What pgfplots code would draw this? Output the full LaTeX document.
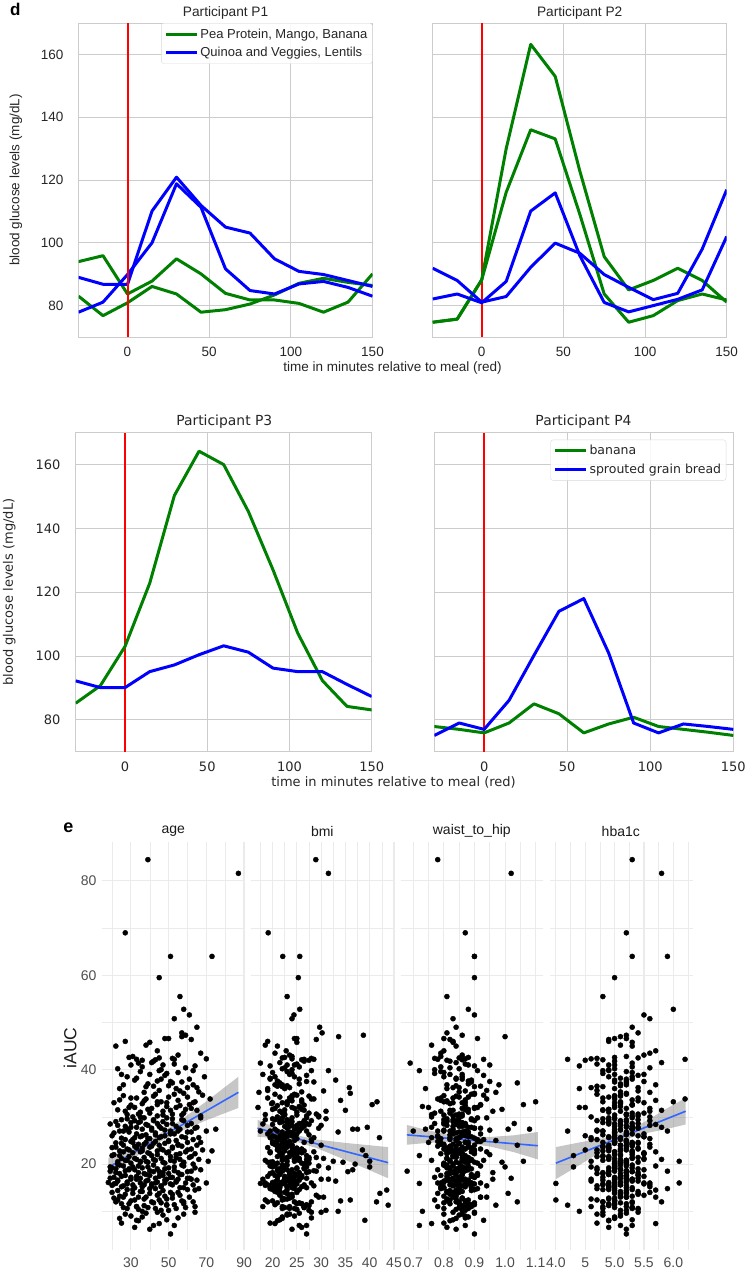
\documentclass[border=0pt]{standalone}
\usepackage{pgfplots}
\pgfplotsset{compat=1.18}
\usepackage{pgfplotstable}
\usepackage{fontspec}
\setmainfont{Liberation Sans}
\newfontfamily\libsans{Liberation Sans}
\newfontfamily\dejavu{DejaVu Sans}

\definecolor{mplgreen}{RGB}{0,128,0}
\definecolor{mplblue}{RGB}{0,0,255}
\definecolor{mplred}{RGB}{255,0,0}
\definecolor{gridgray}{RGB}{204,204,204}
\definecolor{tickc}{RGB}{38,38,38}
\definecolor{ggrid}{RGB}{235,235,235}
\definecolor{ggtick}{RGB}{77,77,77}
\definecolor{ggstrip}{RGB}{26,26,26}
\definecolor{ggblue}{RGB}{51,102,255}

% iAUC against four covariates, one row per participant
\pgfplotstableread{
age bmi whr hba1c iauc
39 28.9 0.78 5.3 84.5
87 31.5 1.02 5.8 81.6
27 19.1 0.87 5.2 69.0
51 22.1 0.90 5.3 64.0
73 25.6 0.90 5.9 64.0
45 25.3 0.90 5.0 59.5
56 23.0 0.81 4.8 55.5
58 25.6 0.88 6.0 52.8
61 24.4 0.90 5.5 51.6
53 24.0 0.83 5.6 50.8
65 29.7 0.84 5.3 49.0
57 30.2 0.81 5.4 47.8
22 21.0 0.84 5.3 45.0
27 19.0 0.83 4.9 46.0
29 22.5 0.88 5.0 42.6
31 24.0 0.79 5.2 42.8
36 27.5 0.81 4.5 42.0
38 18.5 0.76 5.1 45.2
40 25.0 0.83 5.3 45.8
43 26.0 0.86 4.8 42.1
45 22.0 0.85 5.4 42.5
48 24.5 0.91 5.0 46.6
50 25.0 0.80 5.2 46.6
52 28.0 0.77 4.7 42.4
55 23.5 0.86 5.5 43.1
57 33.6 1.00 5.1 47.0
59 38.7 0.86 5.2 47.3
62 29.0 0.82 4.9 46.4
67 20.5 0.79 5.6 43.5
70 24.0 0.87 4.6 42.3
41 21.5 0.84 5.8 41.5
34 17.5 0.69 5.3 41.4
47 23.0 0.95 5.0 41.0
53 26.5 0.93 6.2 42.2
64 19.5 0.90 4.4 40.8
33 28.5 0.78 4.2 42.2
44 22.8 0.80 5.7 44.0
25 18.0 0.82 5.0 39.0
28 20.5 0.86 4.9 38.5
35 23.0 0.79 5.2 39.6
39 25.5 0.88 5.1 37.0
42 21.0 0.92 4.7 36.5
46 19.5 0.84 5.3 38.0
49 24.0 0.77 4.8 39.2
51 27.0 0.95 5.5 37.5
54 22.5 0.81 5.0 36.0
56 30.5 0.87 5.4 35.5
58 36.0 0.90 5.2 35.0
60 35.8 0.83 4.6 36.2
63 22.0 0.98 5.7 36.8
66 26.0 0.85 5.1 35.3
69 24.5 0.80 5.3 38.5
24 19.0 0.74 4.4 36.0
32 33.0 0.89 5.0 37.8
37 17.2 0.97 5.6 35.2
45 28.0 0.72 4.9 39.8
52 21.5 1.04 5.2 37.2
21 20.0 0.83 5.1 33.0
23 22.5 0.87 4.8 31.5
26 24.0 0.80 5.0 34.5
28 18.5 0.76 5.2 30.5
30 26.5 0.92 5.3 32.5
31 21.0 0.85 4.6 30.0
33 23.5 0.79 5.4 34.0
35 25.0 0.88 4.9 31.0
36 19.8 0.82 5.1 32.8
38 28.5 0.94 5.0 33.8
40 22.0 0.77 5.5 30.8
41 24.5 0.86 5.2 31.8
43 20.5 0.90 4.7 34.8
44 27.0 0.83 5.3 30.2
46 23.0 0.81 4.8 33.2
47 31.0 0.96 5.6 31.2
49 25.5 0.73 5.1 32.2
50 21.5 0.88 5.0 34.2
52 29.0 0.85 5.4 30.6
54 24.0 0.91 4.5 32.0
55 34.0 0.79 5.7 33.5
57 22.5 0.84 5.2 30.4
59 26.0 0.99 4.9 31.6
61 40.5 1.06 5.3 32.6
63 23.0 0.87 5.0 33.0
65 35.0 0.82 5.8 31.4
68 25.0 0.93 5.1 34.6
72 28.0 0.78 6.2 33.8
29 17.0 0.75 4.4 32.0
44 41.5 1.10 6.0 33.2
19 18.0 0.80 4.9 28.5
20 21.5 0.86 5.0 26.0
22 24.0 0.83 5.2 29.0
24 19.5 0.78 4.7 27.0
25 22.0 0.90 5.1 25.5
27 26.5 0.85 5.3 28.0
28 20.0 0.81 4.8 29.6
29 23.5 0.88 5.0 26.8
30 25.0 0.76 5.4 27.8
31 21.0 0.93 4.6 25.2
32 28.0 0.84 5.1 29.2
33 19.0 0.87 5.2 26.4
34 23.0 0.80 4.9 28.8
35 24.5 0.89 5.5 25.8
36 20.5 0.74 5.0 27.4
37 27.0 0.91 5.3 29.8
38 22.5 0.82 4.8 26.2
39 30.0 0.86 5.1 28.2
40 21.5 0.79 5.6 25.4
41 25.5 0.95 4.7 27.2
42 18.5 0.83 5.2 29.4
43 24.0 0.88 5.0 26.6
44 26.0 0.77 5.3 28.6
45 22.0 0.85 4.9 25.6
46 29.5 0.92 5.4 27.6
47 23.5 0.81 5.1 29.0
48 20.0 0.87 4.5 26.0
49 27.5 0.84 5.7 28.4
50 24.5 0.97 5.2 25.0
51 21.0 0.80 4.8 27.0
52 31.0 0.89 5.0 29.6
53 25.0 0.83 5.5 26.4
54 22.5 0.86 5.3 28.0
56 36.5 1.01 5.1 27.4
57 23.0 0.78 4.9 25.8
58 26.5 0.90 5.6 29.2
60 33.5 0.85 5.2 26.8
62 25.5 1.03 5.4 28.6
63 28.0 0.82 4.7 25.2
65 39.5 0.88 5.8 27.8
67 24.0 0.94 5.0 29.8
70 27.0 0.87 5.9 27.0
75 37.5 1.08 5.3 27.4
66 42.0 0.76 4.6 25.6
26 17.5 0.70 4.2 27.0
20 19.0 0.82 4.9 23.5
21 21.5 0.86 5.1 22.0
22 23.0 0.79 5.0 24.5
23 20.0 0.88 5.2 20.5
24 25.5 0.84 4.8 22.8
25 22.0 0.81 5.3 21.2
26 24.0 0.90 4.9 24.0
27 18.5 0.76 5.1 20.8
28 26.0 0.87 5.4 23.2
29 21.0 0.83 4.7 21.6
30 23.5 0.92 5.0 24.8
30 27.5 0.80 5.2 20.2
31 19.5 0.85 5.5 22.4
32 22.5 0.78 4.8 23.8
33 25.0 0.89 5.1 21.0
34 20.5 0.83 5.3 24.2
35 24.5 0.86 4.6 20.6
35 28.5 0.94 5.0 22.6
36 21.5 0.81 5.2 23.4
37 23.0 0.88 4.9 21.4
38 26.5 0.75 5.4 24.6
39 19.0 0.84 5.1 20.4
40 22.0 0.90 5.0 22.2
40 24.0 0.82 5.6 23.6
41 27.0 0.87 4.8 21.8
42 20.0 0.79 5.3 24.4
43 25.5 0.93 5.2 20.8
44 22.5 0.85 4.9 22.8
45 24.0 0.80 5.1 24.0
46 30.5 0.88 5.5 21.2
47 21.0 0.83 4.7 23.0
48 26.0 0.91 5.0 20.2
49 23.5 0.86 5.3 22.4
50 28.0 0.78 5.2 24.8
51 22.0 0.84 4.8 21.6
52 25.0 0.89 5.4 23.4
53 32.5 0.82 5.1 20.6
54 24.5 0.95 5.0 22.0
55 20.5 0.80 5.6 24.2
56 27.5 0.87 4.9 21.0
57 23.0 0.84 5.3 23.8
58 34.5 0.99 5.2 20.4
59 26.0 0.81 5.7 22.6
60 22.5 0.88 4.8 24.6
61 29.0 0.86 5.4 21.4
62 25.0 0.92 5.1 23.2
63 37.0 0.83 5.0 20.0
64 24.0 0.79 5.5 22.2
65 30.0 1.04 5.2 24.0
66 27.0 0.87 5.8 21.0
68 38.5 0.85 4.5 23.0
71 40.0 1.06 6.1 20.6
73 26.5 0.90 5.3 22.8
24 39.2 0.72 4.3 21.8
18 20.0 0.80 4.9 16.1
19 22.0 0.86 5.0 18.5
20 18.5 0.83 5.2 15.5
21 24.0 0.77 4.8 17.2
22 21.0 0.89 5.1 19.0
23 23.5 0.84 5.3 16.4
24 19.5 0.81 4.7 18.0
25 26.0 0.87 5.0 15.2
26 22.5 0.92 5.2 19.6
27 20.5 0.79 5.4 17.6
28 25.0 0.85 4.9 15.8
29 23.0 0.88 5.1 18.8
30 18.0 0.82 5.0 16.8
31 27.0 0.86 4.6 19.4
32 21.5 0.80 5.3 15.0
33 24.5 0.90 5.2 17.4
34 20.0 0.84 4.8 18.2
35 22.5 0.78 5.5 16.0
36 26.5 0.87 5.0 19.2
37 19.0 0.83 5.1 15.6
38 23.5 0.89 4.9 17.8
39 25.5 0.81 5.3 16.6
40 21.0 0.85 5.2 18.6
41 28.5 0.94 4.7 15.4
42 22.0 0.80 5.0 19.8
43 24.0 0.86 5.4 17.0
44 20.5 0.88 5.1 16.2
45 27.5 0.83 4.9 18.4
46 23.0 0.79 5.6 15.2
47 25.0 0.91 5.2 17.6
48 21.5 0.84 5.0 19.0
49 30.0 0.87 5.3 16.8
50 24.5 0.82 4.8 18.0
51 22.0 0.90 5.5 15.8
52 26.0 0.85 5.1 17.2
53 20.0 0.81 5.0 19.4
54 33.0 0.88 4.6 16.4
55 23.5 0.96 5.4 18.2
56 27.0 0.80 5.2 15.0
57 21.5 0.86 4.9 17.8
58 29.5 0.83 5.7 19.6
59 24.0 0.89 5.1 16.0
60 35.5 0.84 5.3 18.4
61 22.5 1.02 5.0 17.0
63 26.5 0.87 5.6 15.6
64 31.5 0.82 4.7 19.2
65 24.5 0.85 5.2 16.6
70 28.0 0.92 6.1 16.0
67 36.5 0.78 5.5 18.8
19 40.0 1.00 4.3 19.4
22 17.5 0.72 4.0 15.9
62 29.0 0.68 5.9 18.5
20 21.0 0.83 5.0 14.0
22 19.0 0.87 4.8 12.0
24 24.0 0.80 5.1 13.2
26 22.5 0.85 5.3 10.8
28 20.0 0.90 4.9 14.6
29 26.0 0.82 5.2 11.6
31 23.0 0.78 5.0 13.8
32 18.5 0.88 4.7 12.4
34 25.0 0.84 5.4 10.4
35 21.5 0.81 5.1 14.2
37 27.5 0.86 4.9 11.2
38 23.5 0.92 5.2 13.0
40 20.5 0.79 5.0 14.8
41 24.5 0.85 5.3 12.0
43 22.0 0.87 4.8 10.6
44 29.0 0.83 5.5 13.4
46 25.5 0.80 5.1 11.8
47 21.0 0.89 5.0 14.4
49 23.0 0.84 4.6 12.6
50 31.0 0.86 5.2 10.2
52 24.0 0.82 5.4 13.6
53 27.0 0.90 4.9 11.4
55 22.5 0.85 5.6 14.0
57 34.0 0.81 5.0 12.2
59 26.5 0.88 5.3 10.8
61 30.5 0.94 5.2 13.0
64 23.5 0.87 4.8 11.0
64 43.5 0.84 5.7 14.5
58 41.4 1.04 5.8 12.0
49 43.8 0.97 4.2 11.3
45 42.1 1.01 5.4 13.8
23 36.0 0.77 4.0 12.4
36 33.5 0.73 4.4 10.0
66 19.5 0.91 5.9 14.8
24 22.0 0.84 5.0 8.5
25 19.5 0.80 4.7 7.5
30 24.5 0.87 5.1 9.0
34 21.0 0.82 4.9 8.0
38 25.5 0.90 5.2 9.6
42 27.0 0.72 5.3 7.0
47 23.0 0.85 4.8 9.2
51 27.0 0.90 5.2 5.2
55 28.0 0.87 5.0 8.6
64 30.0 0.83 5.4 9.8
33 39.0 0.93 4.9 8.1
45 20.5 0.76 5.7 7.4
23 22.0 0.85 5.0 40.2
26 20.5 0.81 5.2 36.8
30 24.5 0.88 4.9 41.0
33 19.5 0.84 5.1 38.2
36 25.5 0.79 5.3 40.6
38 22.0 0.90 4.8 36.4
40 23.5 0.86 5.5 39.0
42 26.5 0.82 5.0 41.8
44 21.0 0.88 5.2 37.6
46 24.0 0.77 4.9 40.0
48 27.0 0.93 5.4 38.8
50 23.0 0.84 5.1 36.6
53 25.0 0.87 4.7 41.2
55 20.0 0.80 5.3 39.4
57 28.5 0.89 5.0 37.4
59 22.5 0.82 5.6 40.4
61 25.5 0.86 5.2 38.0
63 31.5 0.91 4.8 39.8
65 23.5 0.85 5.4 36.2
24 26.0 0.87 5.3 33.6
27 21.5 0.79 5.1 31.2
30 19.0 0.83 4.8 34.0
32 25.5 0.90 5.0 32.0
34 22.5 0.86 5.2 30.6
37 24.0 0.81 5.4 33.4
39 20.0 0.88 4.9 31.6
42 27.5 0.84 5.1 34.4
44 23.0 0.92 5.3 32.6
47 25.0 0.80 5.0 30.4
49 22.0 0.86 5.5 33.0
51 26.5 0.83 4.8 31.4
53 24.5 0.89 5.2 34.8
56 21.0 0.87 5.0 32.4
58 27.5 0.82 5.3 30.8
60 24.0 0.85 4.9 34.2
62 20.5 0.90 5.6 31.8
64 26.0 0.80 5.1 33.2
67 29.5 0.86 5.4 30.2
45 19.0 0.94 4.7 35.6
35 29.5 0.76 5.6 30.0
21 23.0 0.84 5.0 26.6
23 25.0 0.87 5.2 28.2
25 20.5 0.80 4.9 29.4
27 22.5 0.91 5.1 25.2
28 24.5 0.83 5.3 27.4
30 21.5 0.86 4.8 28.8
32 19.5 0.82 5.0 25.6
33 26.0 0.89 5.2 27.8
35 22.0 0.85 4.9 29.0
36 24.0 0.78 5.4 26.0
38 20.0 0.87 5.1 28.4
39 25.0 0.84 5.0 25.4
41 23.0 0.90 5.3 27.6
42 21.5 0.81 4.7 29.2
43 27.5 0.86 5.2 26.2
45 23.5 0.83 5.0 28.0
46 20.5 0.88 5.5 25.8
48 25.5 0.80 5.1 27.2
49 22.0 0.85 4.9 29.8
51 24.5 0.92 5.3 26.4
52 27.0 0.87 5.0 28.6
54 21.0 0.84 5.2 25.0
55 25.5 0.82 4.8 27.0
57 23.0 0.89 5.4 29.4
59 28.5 0.85 5.1 25.6
60 24.0 0.81 5.6 28.2
62 22.0 0.86 5.0 26.8
64 26.0 0.90 5.3 27.6
20 24.5 0.83 5.1 21.8
22 21.0 0.88 4.9 23.6
23 26.5 0.80 5.2 20.0
25 23.0 0.85 5.0 24.4
26 19.5 0.82 5.3 22.6
28 22.0 0.89 4.8 20.8
29 24.5 0.84 5.1 23.0
31 20.5 0.87 5.2 24.6
32 25.5 0.81 5.0 21.2
33 22.5 0.86 4.9 23.4
35 19.5 0.90 5.4 20.4
36 24.0 0.83 5.1 22.8
37 21.0 0.79 5.3 24.2
38 23.0 0.88 5.0 20.6
39 26.0 0.85 4.7 22.4
41 22.0 0.82 5.2 23.8
42 24.5 0.86 5.5 21.0
43 20.0 0.91 5.0 24.8
44 25.0 0.84 5.3 22.0
46 22.5 0.80 4.9 23.2
47 27.0 0.87 5.1 20.4
48 23.5 0.85 5.4 24.4
50 21.5 0.89 5.0 22.6
51 25.5 0.82 5.2 20.8
52 23.0 0.86 4.8 23.6
54 27.5 0.84 5.3 21.4
55 22.0 0.88 5.1 24.0
56 24.5 0.81 5.5 22.2
58 21.0 0.85 5.0 20.2
60 26.0 0.90 5.2 23.0
62 23.5 0.83 4.9 21.6
67 22.0 0.87 5.3 24.6
19 24.0 0.85 5.1 17.0
20 22.5 0.81 4.9 19.2
21 20.0 0.88 5.0 15.8
22 25.5 0.84 5.2 18.2
23 21.0 0.86 4.8 16.6
24 23.0 0.80 5.3 19.8
25 19.0 0.89 5.1 17.4
26 24.5 0.83 5.0 15.4
27 22.0 0.87 4.9 18.6
28 20.5 0.82 5.2 16.2
29 26.5 0.85 5.4 19.0
30 23.5 0.90 5.0 17.2
31 21.0 0.84 5.1 15.6
32 24.0 0.86 4.7 18.8
33 22.5 0.81 5.3 16.8
34 19.5 0.88 5.0 19.6
35 25.5 0.83 5.2 17.0
36 23.0 0.85 4.9 15.2
37 21.5 0.91 5.1 18.0
38 24.5 0.80 5.4 16.4
39 22.0 0.86 5.0 19.4
40 26.0 0.84 5.2 17.6
41 20.0 0.87 4.8 15.8
42 23.5 0.82 5.3 18.4
43 21.5 0.89 5.1 16.0
44 25.0 0.85 5.0 19.0
45 22.5 0.81 5.5 17.4
46 20.0 0.86 4.9 15.4
47 27.0 0.83 5.2 18.2
48 23.0 0.88 5.0 16.6
50 25.0 0.85 5.3 19.2
51 21.0 0.90 5.1 17.2
52 23.5 0.82 4.8 15.6
53 28.5 0.87 5.2 18.6
54 22.0 0.84 5.0 16.2
56 25.0 0.86 5.4 17.8
57 20.5 0.81 5.1 19.8
58 24.0 0.89 4.9 15.0
60 27.0 0.85 5.2 17.0
62 22.5 0.83 5.0 16.8
21 23.5 0.86 5.0 12.8
23 20.5 0.82 5.2 14.4
25 25.0 0.88 4.9 11.6
27 21.5 0.84 5.1 13.6
28 23.5 0.80 5.3 10.6
30 20.0 0.87 5.0 12.2
31 25.5 0.85 4.8 14.6
33 22.0 0.89 5.2 11.0
34 24.0 0.83 5.1 13.0
36 20.5 0.86 5.4 14.2
37 22.5 0.81 4.9 12.6
39 26.5 0.88 5.0 10.8
40 23.0 0.84 5.2 13.8
42 21.0 0.90 5.3 11.8
43 24.5 0.85 4.7 14.8
45 22.0 0.82 5.0 12.4
46 27.5 0.87 5.1 10.2
48 23.5 0.84 5.3 13.2
49 20.5 0.89 5.0 11.4
51 25.0 0.81 5.2 14.0
52 22.0 0.86 4.9 12.8
54 24.5 0.88 5.4 10.6
56 21.5 0.83 5.1 13.4
58 26.0 0.85 5.0 11.6
60 23.0 0.90 5.3 14.6
63 28.0 0.84 4.8 12.0
33 18.0 0.78 4.6 11.0
48 18.5 0.79 5.6 16.0
26 29.5 0.92 5.7 13.0
55 31.5 0.96 4.6 16.8
27 23.0 0.86 5.1 9.4
32 26.0 0.81 4.9 6.6
36 22.0 0.88 5.0 8.8
40 24.0 0.84 5.2 6.2
44 28.0 0.90 4.8 9.8
49 21.5 0.83 5.3 8.2
53 25.5 0.87 5.1 7.0
58 23.5 0.80 4.7 9.4
}\iauc

\pgfplotsset{
  /pgf/number format/assume math mode=true,
  dbase/.style={
    scale only axis, anchor=north west,
    xmin=-30, xmax=150, ymin=70, ymax=170,
    xtick={0,50,100,150}, ytick={80,100,120,140,160},
    grid=major, major grid style={draw=gridgray, line width=1pt},
    axis line style={draw=gridgray, line width=1pt},
    tick style={draw=none},
    xticklabel style={anchor=north, inner sep=0pt, yshift=-10pt, text=tickc},
    yticklabel style={anchor=east, inner sep=0pt, xshift=-15pt, text=tickc},
    legend cell align=left,
    legend image code/.code={\draw[##1] (0pt,0pt) -- (31pt,0pt);},
  },
  gl/.style={draw=mplgreen, line width=3pt, line join=round},
  bl/.style={draw=mplblue, line width=3pt, line join=round},
  meal/.style={draw=mplred, line width=2pt, forget plot},
  ebase/.style={
    scale only axis, anchor=north west, height=408.3pt,
    ymin=1.8, ymax=88.3, ytick={20,40,60,80}, minor ytick={10,30,50,70},
    grid=both, major grid style={draw=ggrid, line width=1.1pt},
    minor grid style={draw=ggrid, line width=0.55pt},
    axis line style={draw=none}, tick style={draw=none},
    xticklabel style={anchor=north, inner sep=0pt, yshift=-7.5pt, text=ggtick,
      font=\libsans\fontsize{14}{16}\selectfont},
    yticklabel style={anchor=east, inner sep=0pt, xshift=-5pt, text=ggtick,
      font=\libsans\fontsize{14}{16}\selectfont},
  },
  pts/.style={only marks, mark=*, mark size=2.55pt, mark options={draw=black, fill=black}},
  band/.style={draw=none, fill=black!50, fill opacity=0.45},
  fit/.style={ggblue, line width=1.6pt},
}

\begin{document}
\begin{tikzpicture}
\path[use as bounding box] (0pt,0pt) rectangle (746pt,-1272pt);

% ---- panel d, top row ----
\begin{axis}[dbase, at={(78.5pt,-23pt)}, width=294pt, height=314pt,
  tick label style={font=\libsans\fontsize{13.5}{16}\selectfont},
  legend style={at={(1,1)}, anchor=north east, draw=black!15, rounded corners=2.5pt,
    fill=white, fill opacity=0.85, text opacity=1, text=tickc,
    font=\libsans\fontsize{13}{15}\selectfont, inner xsep=3pt, inner ysep=3.5pt, row sep=3.5pt}]
  \addplot[gl] coordinates {(-30,94.0)(-15,95.9)(0,83.7)(15,87.8)(30,94.9)(45,90.1)(60,83.9)(75,81.8)(90,81.8)(105,80.7)(120,77.9)(135,81.1)(150,90.1)};
  \addlegendentry{Pea Protein, Mango, Banana}
  \addplot[gl, forget plot] coordinates {(-30,83.0)(-15,76.8)(0,80.9)(15,86.1)(30,83.7)(45,77.9)(60,78.7)(75,80.5)(90,83.4)(105,87.1)(120,88.7)(135,87.4)(150,86.4)};
  \addplot[bl] coordinates {(-30,89.0)(-15,86.8)(0,86.8)(15,110.1)(30,120.9)(45,111.9)(60,105.0)(75,103.1)(90,94.9)(105,90.9)(120,89.9)(135,88.0)(150,86.1)};
  \addlegendentry{Quinoa and Veggies, Lentils}
  \addplot[bl, forget plot] coordinates {(-30,77.9)(-15,81.1)(0,89.9)(15,100.0)(30,118.8)(45,111.3)(60,91.7)(75,84.8)(90,83.7)(105,86.9)(120,87.7)(135,85.8)(150,83.0)};
  \addplot[meal] coordinates {(0,70)(0,170)};
\end{axis}

\begin{axis}[dbase, at={(432.7pt,-23pt)}, width=294pt, height=314pt,
  tick label style={font=\libsans\fontsize{13.5}{16}\selectfont}, yticklabels={}]
  \addplot[meal] coordinates {(0,70)(0,170)};
  \addplot[gl] coordinates {(-30,74.7)(-15,75.7)(0,88.2)(15,130.0)(30,163.2)(45,153.0)(60,123.0)(75,95.6)(90,85.0)(105,88.0)(120,91.9)(135,88.0)(150,81.1)};
  \addplot[gl] coordinates {(-30,74.7)(-15,75.7)(0,88.2)(15,116.1)(30,136.0)(45,133.1)(60,109.2)(75,83.7)(90,74.7)(105,76.8)(120,81.6)(135,83.7)(150,81.8)};
  \addplot[bl] coordinates {(-30,82.1)(-15,83.7)(0,80.9)(15,87.7)(30,110.1)(45,115.9)(60,96.0)(75,81.0)(90,78.0)(105,80.0)(120,82.0)(135,85.0)(150,102.0)};
  \addplot[bl] coordinates {(-30,91.9)(-15,88.0)(0,81.1)(15,82.9)(30,92.2)(45,99.9)(60,96.7)(75,89.9)(90,85.8)(105,81.9)(120,83.9)(135,98.0)(150,116.9)};
\end{axis}

% ---- panel d, bottom row ----
\begin{axis}[dbase, at={(75.7pt,-432.7pt)}, width=296pt, height=319pt,
  tick label style={font=\dejavu\fontsize{13}{15}\selectfont}]
  \addplot[meal] coordinates {(0,70)(0,170)};
  \addplot[gl] coordinates {(-30,85.2)(-15,90.7)(0,103.0)(15,122.8)(30,150.3)(45,164.2)(60,160.0)(75,145.3)(90,127.0)(105,107.2)(120,92.3)(135,84.2)(150,83.1)};
  \addplot[bl] coordinates {(-30,92.2)(-15,90.1)(0,90.1)(15,95.1)(30,97.2)(45,100.4)(60,103.2)(75,101.2)(90,96.2)(105,95.1)(120,95.1)(135,91.1)(150,87.3)};
\end{axis}

\begin{axis}[dbase, at={(434.3pt,-432.7pt)}, width=299pt, height=319pt,
  tick label style={font=\dejavu\fontsize{13}{15}\selectfont}, yticklabels={},
  legend style={at={(1,1)}, anchor=north east, xshift=-7pt, yshift=-7pt,
    draw=black!15, rounded corners=2.5pt, fill=white, fill opacity=0.85, text opacity=1,
    text=tickc, font=\dejavu\fontsize{12.5}{15}\selectfont, inner xsep=3pt, inner ysep=3.5pt, row sep=3.5pt}]
  \addplot[meal] coordinates {(0,70)(0,170)};
  \addplot[gl] coordinates {(-30,77.9)(-15,77.0)(0,75.9)(15,79.0)(30,85.0)(45,81.9)(60,75.9)(75,78.7)(90,80.8)(105,77.9)(120,77.0)(135,76.1)(150,75.1)};
  \addlegendentry{banana}
  \addplot[bl] coordinates {(-30,75.1)(-15,79.0)(0,77.0)(15,86.1)(30,100.2)(45,114.0)(60,118.0)(75,100.9)(90,79.0)(105,75.9)(120,78.7)(135,77.9)(150,77.0)};
  \addlegendentry{sprouted grain bread}
\end{axis}

% ---- panel e ----
\begin{axis}[ebase, at={(101.7pt,-841.7pt)}, width=143.3pt,
  xmin=14.5, xmax=90.5, xtick={30,50,70,90}, minor xtick={20,40,60,80}]
  \addplot[pts] table[x=age, y=iauc] {\iauc};
  \addplot[band] coordinates {(18,21.3)(30,23.26)(42,25.63)(55,28.92)(70,33.28)(87,38.5)
    (87,31.9)(70,29.28)(55,26.72)(42,24.03)(30,20.86)(18,17.3)} -- cycle;
  \addplot[fit] coordinates {(18,19.3)(87,35.2)};
\end{axis}

\begin{axis}[ebase, at={(250.7pt,-841.7pt)}, width=143.3pt, yticklabels={},
  xmin=15.5, xmax=45, xtick={20,25,30,35,40,45}, minor xtick={17.5,22.5,27.5,32.5,37.5,42.5}]
  \addplot[pts] table[x=bmi, y=iauc] {\iauc};
  \addplot[band] coordinates {(16.9,29.4)(21,27.49)(25,26.1)(29,25.22)(35,24.49)(43.8,23.6)
    (43.8,17.0)(35,20.89)(29,23.42)(25,24.7)(21,25.49)(16.9,25.8)} -- cycle;
  \addplot[fit] coordinates {(16.9,27.6)(43.8,20.3)};
\end{axis}

\begin{axis}[ebase, at={(400.7pt,-841.7pt)}, width=142.6pt, yticklabels={},
  xmin=0.659, xmax=1.125, xtick={0.7,0.8,0.9,1.0,1.1}, xticklabels={0.7,0.8,0.9,1.0,1.1},
  minor xtick={0.75,0.85,0.95,1.05}]
  \addplot[pts] table[x=whr, y=iauc] {\iauc};
  \addplot[band] coordinates {(0.679,28.3)(0.75,27.12)(0.82,26.24)(0.88,25.87)(0.95,25.74)(1.03,26.11)(1.107,26.8)
    (1.107,21.0)(1.03,22.51)(0.95,23.74)(0.88,24.37)(0.82,24.64)(0.75,24.52)(0.679,24.1)} -- cycle;
  \addplot[fit] coordinates {(0.679,26.2)(1.107,23.9)};
\end{axis}

\begin{axis}[ebase, at={(550pt,-841.7pt)}, width=142.7pt, yticklabels={},
  xmin=3.9, xmax=6.33, xtick={4,4.5,5,5.5,6}, xticklabels={4.0,5,5.0,5.5,6.0},
  minor xtick={4.25,4.75,5.25,5.75,6.25}]
  \addplot[pts] table[x=hba1c, y=iauc] {\iauc};
  \addplot[band] coordinates {(4.0,23.6)(4.4,24.59)(4.8,25.48)(5.15,26.72)(5.5,28.87)(5.9,31.86)(6.21,34.0)
    (6.21,28.4)(5.9,27.46)(5.5,26.47)(5.15,25.12)(4.8,22.88)(4.4,19.79)(4.0,16.8)} -- cycle;
  \addplot[fit] coordinates {(4.0,20.2)(6.21,31.2)};
\end{axis}

% ---- labels ----
\node[font=\bfseries\fontsize{17}{17}\selectfont] at (15.3pt,-9pt) {d};
\node[font=\bfseries\fontsize{18}{18}\selectfont] at (68.3pt,-828pt) {e};
\node[font=\fontsize{13.7}{16}\selectfont, text=tickc] at (225.6pt,-12.7pt) {Participant P1};
\node[font=\fontsize{13.7}{16}\selectfont, text=tickc] at (579.7pt,-12.7pt) {Participant P2};
\node[font=\dejavu\fontsize{13.9}{16}\selectfont, text=tickc] at (224.3pt,-421.7pt) {Participant P3};
\node[font=\dejavu\fontsize{13.9}{16}\selectfont, text=tickc] at (583.5pt,-421.7pt) {Participant P4};
\node[font=\fontsize{13.5}{16}\selectfont, text=tickc] at (392.5pt,-368pt) {time in minutes relative to meal (red)};
\node[font=\dejavu\fontsize{13}{16}\selectfont, text=tickc] at (393.5pt,-782.7pt) {time in minutes relative to meal (red)};
\node[rotate=90, font=\fontsize{13.5}{16}\selectfont, text=tickc] at (15.8pt,-180pt) {blood glucose levels (mg/dL)};
\node[rotate=90, font=\dejavu\fontsize{13}{16}\selectfont, text=tickc] at (9.2pt,-592.2pt) {blood glucose levels (mg/dL)};
\node[font=\fontsize{14}{16}\selectfont, text=ggstrip] at (173.3pt,-831pt) {age};
\node[font=\fontsize{14}{16}\selectfont, text=ggstrip] at (322.3pt,-831pt) {bmi};
\node[font=\fontsize{14}{16}\selectfont, text=ggstrip] at (471.8pt,-831pt) {waist\_to\_hip};
\node[font=\fontsize{14}{16}\selectfont, text=ggstrip] at (620.8pt,-831pt) {hba1c};
\node[rotate=90, font=\fontsize{17.5}{20}\selectfont, text=ggstrip] at (70pt,-1048pt) {iAUC};
\end{tikzpicture}
\end{document}
